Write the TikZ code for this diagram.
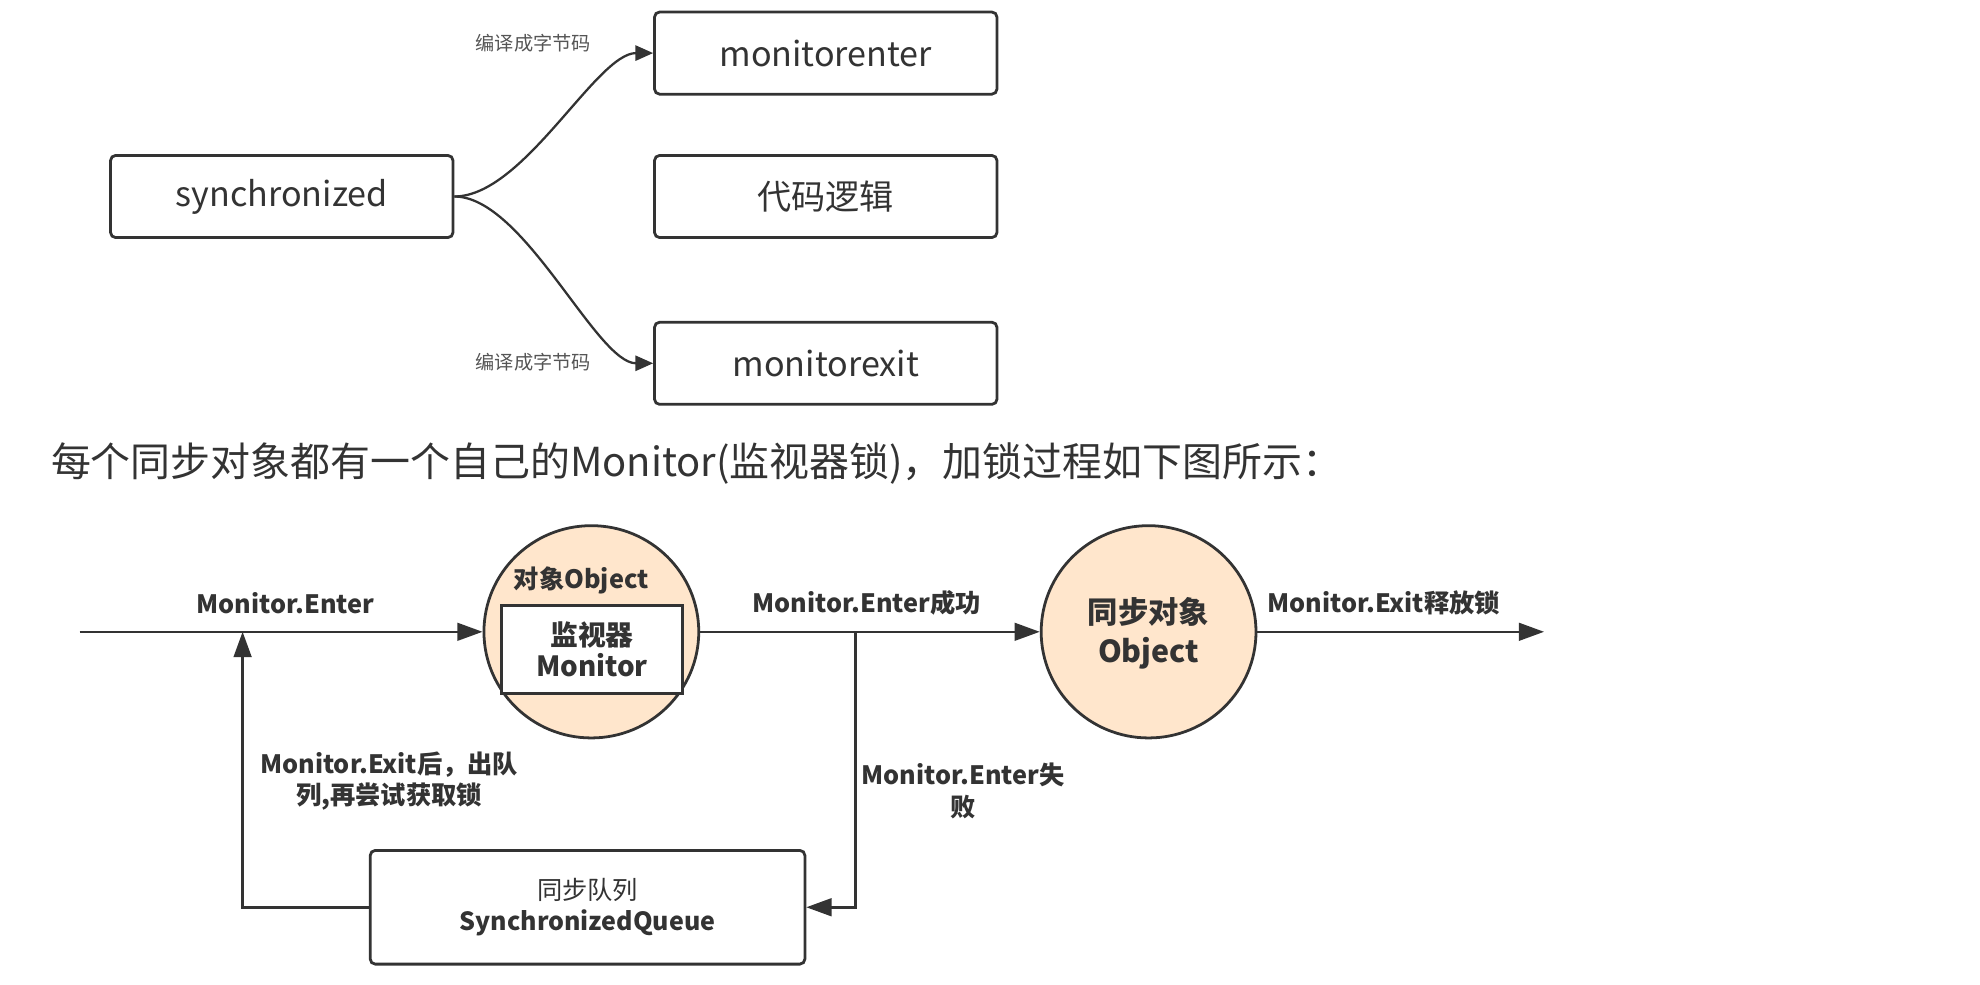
\documentclass[tikz,border=0pt]{standalone}
\usepackage{fontspec}
\setmainfont{Noto Sans CJK SC}
\usetikzlibrary{arrows.meta,shapes.geometric}
\definecolor{ln}{HTML}{333333}
\definecolor{txt}{HTML}{333333}
\definecolor{peach}{HTML}{FFE6CC}
\definecolor{graytxt}{HTML}{555555}
\begin{document}
\begin{tikzpicture}[x=0.5pt,y=-0.5pt,
  topbox/.style={draw=ln,line width=1.1pt,rounded corners=2pt,fill=white,minimum width=135.5pt,minimum height=32.5pt,inner sep=0pt,text=txt,font=\fontsize{13.5}{16}\selectfont},
  toplbl/.style={text=graytxt,font=\fontsize{7.6}{9}\selectfont,inner sep=0pt},
  curve/.style={draw=ln,line width=0.9pt,-{Triangle[length=7pt,width=6pt]}},
  flow/.style={draw=ln,line width=1pt,-{Triangle[length=10pt,width=7pt]}},
  blbl/.style={text=txt,font=\bfseries\fontsize{10}{12.5}\selectfont,inner sep=0pt,align=center},
  obj/.style={ellipse,draw=ln,line width=1.1pt,fill=peach,minimum width=85pt,minimum height=84pt,inner sep=0pt},
]
\useasboundingbox (0,0) rectangle (1567,778.8);

% top part
\node[topbox] (sync) at (223,155.5) {synchronized};
\node[topbox] (menter) at (653.5,42) {monitorenter};
\node[topbox] (logic) at (653.5,155.5) {代码逻辑};
\node[topbox] (mexit) at (653.5,287.5) {monitorexit};
\draw[curve] (sync.east) .. controls +(55,0) and +(-45,0) .. (menter.west);
\draw[curve] (sync.east) .. controls +(55,0) and +(-45,0) .. (mexit.west);
\node[toplbl] (l1) at (422,34) {编译成字节码};
\node[toplbl] (l2) at (422,287) {编译成字节码};

% heading
\node[anchor=west,inner sep=0pt,text=txt,font=\fontsize{15.8}{18}\selectfont] (head) at (40,367) {每个同步对象都有一个自己的Monitor(监视器锁)，加锁过程如下图所示：};

% bottom part
\node[obj] (c1) at (468,500) {};
\node[draw=ln,line width=1pt,fill=white,minimum width=71.5pt,minimum height=35pt,inner sep=0pt,blbl,font=\bfseries\fontsize{11}{12.5}\selectfont] (mon) at (468.5,514) {监视器\\Monitor};
\node[blbl,font=\bfseries\fontsize{10}{12}\selectfont] (objlbl) at (460,459) {对象Object};
\node[obj] (c2) at (909,500) {};
\node[blbl,font=\bfseries\fontsize{12}{15.5}\selectfont] (c2t) at (909,501) {同步对象\\Object};

\node[draw=ln,line width=1.1pt,rounded corners=2pt,fill=white,minimum width=172pt,minimum height=45pt,inner sep=0pt,align=center,text=txt] (queue) at (465,718)
  {{\fontsize{10}{12.5}\selectfont 同步队列}\\{\bfseries\fontsize{9.9}{12.5}\selectfont SynchronizedQueue}};

\coordinate (start) at (63,500);
\coordinate (j1) at (677,500);
\coordinate (j2) at (192,500);
\coordinate (end) at (1222,500);

\draw[flow] (start) -- (c1.west);
\draw[flow] (c1.east) -- (c2.west);
\draw[flow] (c2.east) -- (end);
\draw[flow] (j1) |- (queue.east);
\draw[flow] (queue.west) -| (j2);

\node[blbl] (e1) at (226,477) {Monitor.Enter};
\node[blbl] (e2) at (686,477) {Monitor.Enter成功};
\node[blbl] (e3) at (1095,477) {Monitor.Exit释放锁};
\node[blbl] (e4) at (762,626) {Monitor.Enter失\\败};
\node[blbl] (e5) at (308,618) {Monitor.Exit后，出队\\列,再尝试获取锁};
\end{tikzpicture}
\end{document}
